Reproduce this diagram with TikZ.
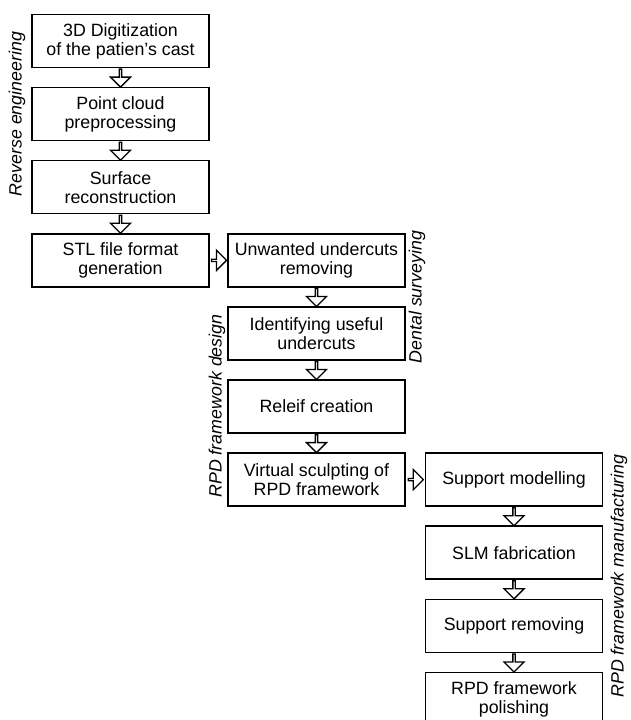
\documentclass[tikz,border=0pt]{standalone}
\usepackage{fontspec}
\setmainfont{Liberation Sans}
\usetikzlibrary{shapes.arrows}
\tikzset{
stepbox/.style={rectangle,draw,line width=1.5pt,minimum width=177pt,minimum height=53pt,align=center,inner sep=0pt},
varrow/.style={single arrow,draw,line width=1.3pt,shape border rotate=270,minimum height=18pt,minimum width=20pt,single arrow head extend=5pt,inner sep=0pt},
harrow/.style={single arrow,draw,line width=1.3pt,minimum height=15pt,minimum width=20pt,single arrow head extend=5pt,inner sep=0pt},
sidelabel/.style={rotate=90,font=\fontsize{17.8}{19}\selectfont\itshape}
}
\begin{document}
\begin{tikzpicture}[x=1pt,y=-1pt,font=\fontsize{17.8}{19}\selectfont]
\useasboundingbox (0,0) rectangle (630,720);
\node at (120.5,41) [stepbox] (s1) {3D Digitization\\of the patien’s cast};
\node at (120.5,114.1) [stepbox] (s2) {Point cloud\\preprocessing};
\node at (120.5,187.2) [stepbox] (s3) {Surface\\reconstruction};
\node at (120.5,260.3) [stepbox] (s4) {STL file format\\generation};
%
\node at (316.5,260.3) [stepbox] (s5) {Unwanted undercuts\\removing};
\node at (316.5,333.4) [stepbox] (s6) {Identifying useful\\undercuts};
\node at (316.5,406.5) [stepbox] (s7) {Releif creation};
\node at (316.5,479.6) [stepbox] (s8) {Virtual sculpting of\\RPD framework};
%
\node at (514,479.6) [stepbox] (s9) {Support modelling};
\node at (514,552.7) [stepbox] (s10) {SLM fabrication};
\node at (514,625.8) [stepbox] (s11) {Support removing};
\node at (514,698.9) [stepbox] (s12) {RPD framework\\polishing};
%
\node at (17,114) [sidelabel] (lre) {Reverse engineering};
\node at (417,297) [sidelabel] (lds) {Dental surveying};
\node at (217,406) [sidelabel] (ldes) {RPD framework design};
\node at (619,576) [sidelabel] (lman) {RPD framework manufacturing};
%
\path (s1) -- node[varrow] {} (s2);
\path (s2) -- node[varrow] {} (s3);
\path (s3) -- node[varrow] {} (s4);
\path (s4) -- node[harrow] {} (s5);
%
\path (s5) -- node[varrow] {} (s6);
\path (s6) -- node[varrow] {} (s7);
\path (s7) -- node[varrow] {} (s8);
\path (s8) -- node[harrow] {} (s9);
%
\path (s9) -- node[varrow] {} (s10);
\path (s10) -- node[varrow] {} (s11);
\path (s11) -- node[varrow] {} (s12);
\end{tikzpicture}
\end{document}
